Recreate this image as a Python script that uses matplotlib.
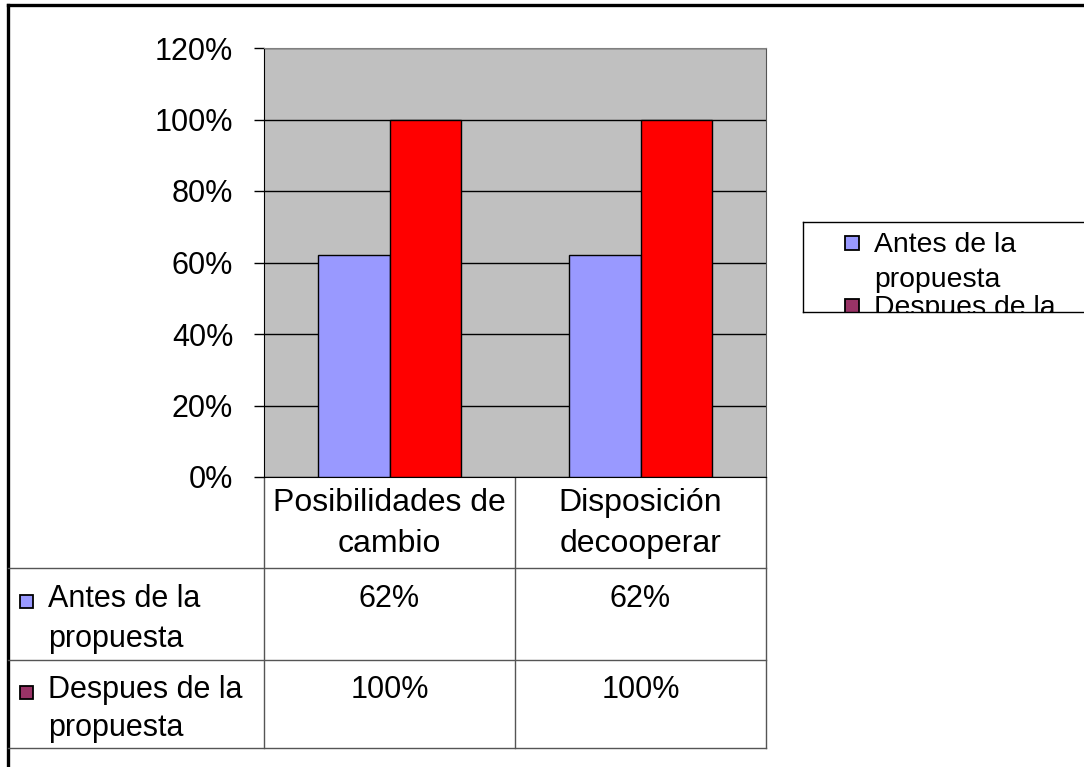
import matplotlib

matplotlib.use("Agg")
import matplotlib.pyplot as plt
from matplotlib.patches import Rectangle
import numpy as np

plt.rcParams['font.family'] = ['Liberation Sans', 'DejaVu Sans']

# datos
categories = ["Posibilidades de\ncambio", "Disposición\ndecooperar"]
series_names = ["Antes de la\npropuesta", "Despues de la\npropuesta"]
antes = [0.62, 0.62]
despues = [1.00, 1.00]
yticks = [0, 0.2, 0.4, 0.6, 0.8, 1.0, 1.2]

BAR_COLORS = ["#9999FF", "#FF0000"]
KEY_COLORS = ["#9999FF", "#993366"]
LINE = "#555555"
FS = 22

W, H = 1084, 767
fig = plt.figure(figsize=(W / 100, H / 100), dpi=100)

# capa de fondo en pixeles
bg = fig.add_axes([0, 0, 1, 1])
bg.set_xlim(0, W)
bg.set_ylim(H, 0)
bg.axis("off")

# borde exterior
bg.plot([7.5, W], [5, 5], color="black", lw=2.4, solid_capstyle="projecting")
bg.plot([7.5, 7.5], [5, H], color="black", lw=2.4, solid_capstyle="projecting")

# area de grafico
PL, PR, PT, PB = 264, 766, 48, 477
ax = fig.add_axes([PL / W, 1 - PB / H, (PR - PL) / W, (PB - PT) / H])
ax.set_facecolor("#C0C0C0")
x = np.arange(len(categories))
bw = 0.283
ax.bar(x - bw / 2, antes, bw, color=BAR_COLORS[0], edgecolor="black", lw=1, zorder=3)
ax.bar(x + bw / 2, despues, bw, color=BAR_COLORS[1], edgecolor="black", lw=1, zorder=3)
ax.set_xlim(-0.5, len(categories) - 0.5)
ax.set_ylim(0, 1.2)
ax.set_yticks(yticks)
ax.set_yticklabels([f"{int(round(v * 100))}%" for v in yticks], fontsize=FS)
ax.yaxis.grid(True, color="black", lw=1, zorder=1)
ax.set_axisbelow(True)
ax.set_xticks([])
ax.tick_params(axis="y", length=7.2, width=1, pad=15, color="black")
ax.spines["left"].set_color("black")
ax.spines["bottom"].set_color("black")
ax.spines["top"].set_color("#808080")
ax.spines["right"].set_color(LINE)

# tabla de datos
col_edges = [PL, 515, PR]
row_edges = [PB, 568, 660, 748]

for xe in col_edges:
    bg.plot([xe, xe], [PB, row_edges[-1]], color=LINE, lw=1)
for ye in row_edges[1:]:
    bg.plot([8, PR], [ye, ye], color=LINE, lw=1)

for i, cat in enumerate(categories):
    cx = (col_edges[i] + col_edges[i + 1]) / 2
    for j, line in enumerate(cat.split("\n")):
        bg.text(cx, 511 + j * 41, line, ha="center", va="baseline", fontsize=23)

for r, (name, vals) in enumerate(zip(series_names, [antes, despues])):
    base = row_edges[r + 1] + 35 + (4 if r == 0 else 3)
    y_key = base - 6
    bg.add_patch(Rectangle((20, y_key - 6.5), 13, 13, facecolor=KEY_COLORS[r],
                           edgecolor="black", lw=1.3))
    step = 40 if r == 0 else 38
    for j, line in enumerate(name.split("\n")):
        bg.text(48, base + j * step, line, ha="left", va="baseline", fontsize=FS)
    for i, v in enumerate(vals):
        cx = (col_edges[i] + col_edges[i + 1]) / 2
        bg.text(cx, base, f"{int(round(v * 100))}%", ha="center",
                va="baseline", fontsize=FS)

# leyenda (recortada por su cuadro)
LX0, LY0, LX1, LY1 = 803, 222, 1090, 312
lg = fig.add_axes([LX0 / W, 1 - LY1 / H, (LX1 - LX0) / W, (LY1 - LY0) / H])
lg.set_xlim(LX0, LX1)
lg.set_ylim(LY1, LY0)
lg.set_xticks([])
lg.set_yticks([])
for s in lg.spines.values():
    s.set_color("black")
    s.set_linewidth(1)
lg_base = [252, 315]
for r, name in enumerate(series_names):
    b = lg_base[r]
    lg.add_patch(Rectangle((845, b - 16), 14, 14, facecolor=KEY_COLORS[r],
                           edgecolor="black", lw=1.3, clip_on=True))
    for j, line in enumerate(name.split("\n")):
        lg.text(874, b + j * 35, line, ha="left", va="baseline",
                fontsize=20.4, clip_on=True)

fig.savefig("out.png", dpi=100, facecolor="white")
